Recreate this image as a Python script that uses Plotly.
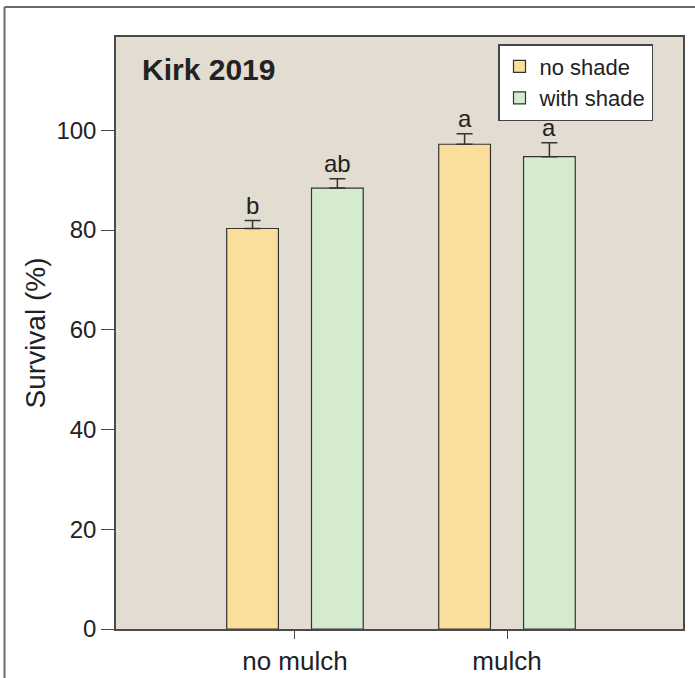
import plotly.graph_objects as go

categories = ["no mulch", "mulch"]
no_shade = [80.3, 97.2]
no_shade_err = [1.6, 2.1]
with_shade = [88.4, 94.7]
with_shade_err = [1.9, 2.8]
letters_no_shade = ["b", "a"]
letters_with_shade = ["ab", "a"]
yticks = [0, 20, 40, 60, 80, 100]

W, H = 695, 678
L, R, T, B = 116, 12, 37, 49
FONT = "Arial, Liberation Sans, sans-serif"
TXT = "#222222"
LINE = "#4a4a4a"

fig = go.Figure()
fig.add_trace(go.Bar(
    name="no shade", x=categories, y=no_shade,
    marker=dict(color="#FCDE9C", line=dict(color="#333333", width=1.2)),
    error_y=dict(type="data", array=no_shade_err, arrayminus=[0, 0], symmetric=False,
                 color="#333333", thickness=1.5, width=8),
))
fig.add_trace(go.Bar(
    name="with shade", x=categories, y=with_shade,
    marker=dict(color="#D4EBCF", line=dict(color="#333333", width=1.2)),
    error_y=dict(type="data", array=with_shade_err, arrayminus=[0, 0], symmetric=False,
                 color="#333333", thickness=1.5, width=8),
))

ann = []
for i in range(len(categories)):
    ann.append(dict(x=i - 0.2, y=no_shade[i] + no_shade_err[i], xref="x", yref="y",
                    text=letters_no_shade[i], showarrow=False, yanchor="bottom", yshift=0,
                    font=dict(family=FONT, size=24, color=TXT)))
    ann.append(dict(x=i + 0.2, y=with_shade[i] + with_shade_err[i], xref="x", yref="y",
                    text=letters_with_shade[i], showarrow=False, yanchor="bottom", yshift=0,
                    font=dict(family=FONT, size=24, color=TXT)))

pw = W - L - R
ph = H - T - B
ann.append(dict(x=(140 - L) / pw, y=(629 - 70) / ph, xref="paper", yref="paper",
                text="<b>Kirk 2019</b>", showarrow=False, xanchor="left", yanchor="middle",
                font=dict(family=FONT, size=30, color=TXT)))

def px_x(p):
    return (p - L) / pw

def px_y(p):
    return (H - B - p) / ph

shapes = [
    dict(type="line", xref="paper", yref="paper", x0=px_x(4.5), x1=px_x(4.5), y0=px_y(7), y1=px_y(700),
         line=dict(color="#6a6a6a", width=2)),
    dict(type="line", xref="paper", yref="paper", x0=px_x(4.5), x1=px_x(700), y0=px_y(7), y1=px_y(7),
         line=dict(color="#6a6a6a", width=2)),
]

fig.update_layout(
    width=W, height=H,
    margin=dict(l=L, r=R, t=T, b=B, autoexpand=False),
    paper_bgcolor="white",
    plot_bgcolor="#E3DCD1",
    barmode="group",
    bargap=0.2,
    bargroupgap=0.39,
    showlegend=True,
    legend=dict(x=px_x(498), y=px_y(44), xanchor="left", yanchor="top",
                bgcolor="white", bordercolor="#444444", borderwidth=1.5,
                font=dict(family=FONT, size=22, color=TXT),
                tracegroupgap=0, itemwidth=30),
    annotations=ann,
    shapes=shapes,
    font=dict(family=FONT, color=TXT),
)
fig.update_xaxes(
    range=[-0.844, 1.83], showline=True, linecolor=LINE, linewidth=1.5, mirror=True,
    ticks="outside", ticklen=8, tickcolor=LINE, tickwidth=1.2,
    automargin=False,
    tickfont=dict(family=FONT, size=26, color=TXT), showgrid=False, zeroline=False,
)
fig.update_yaxes(
    range=[0, 118.7], tickvals=yticks, showline=True, linecolor=LINE, linewidth=1.5, mirror=True,
    ticks="outside", ticklen=13, tickcolor=LINE, tickwidth=1.2, automargin=False,
    tickfont=dict(family=FONT, size=24, color=TXT), showgrid=False, zeroline=False,
    title=dict(text="Survival (%)", font=dict(family=FONT, size=28, color=TXT), standoff=3),
)

fig.write_html("out.html")
